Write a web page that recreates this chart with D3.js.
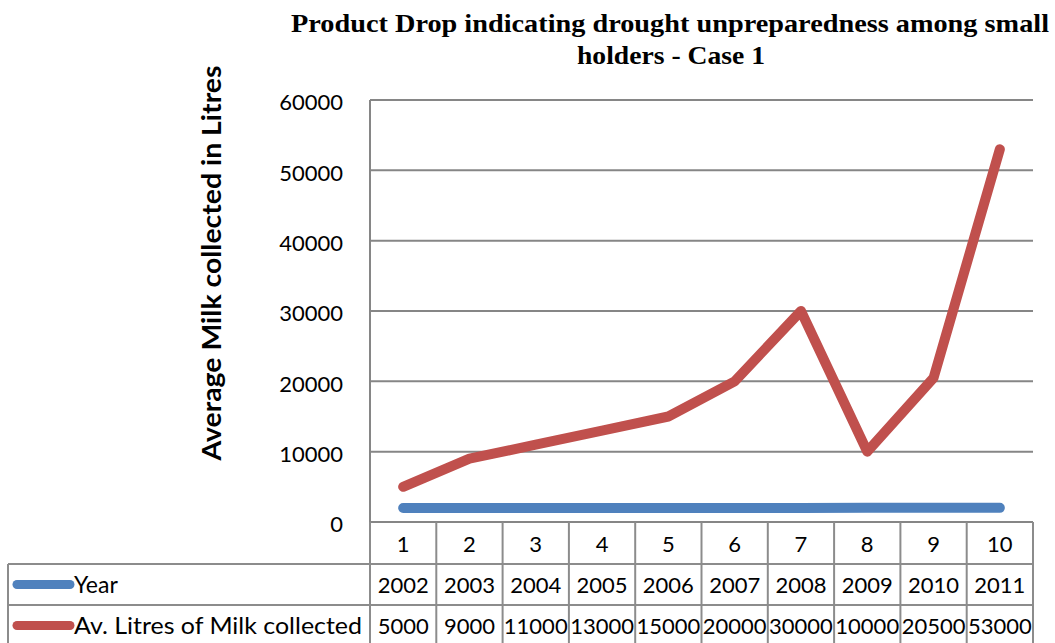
<!DOCTYPE html>
<html>
<head>
<meta charset="utf-8">
<script src="https://cdn.jsdelivr.net/npm/d3@7"></script>
<style>
  body { margin: 0; background: #fff; }
  text { fill: #000; }
</style>
</head>
<body>
<div id="chart"></div>
<script>
// Chart data
var categories = [1, 2, 3, 4, 5, 6, 7, 8, 9, 10];
var years = [2002, 2003, 2004, 2005, 2006, 2007, 2008, 2009, 2010, 2011];
var milk = [5000, 9000, 11000, 13000, 15000, 20000, 30000, 10000, 20500, 53000];
var yTicks = [0, 10000, 20000, 30000, 40000, 50000, 60000];
var seriesNames = ["Year", "Av. Litres of Milk collected"];
var seriesColors = ["#4F81BD", "#C0504D"];

var svgWidth = 1055;
var svgHeight = 643;

var margin = { top: 100, right: 22, bottom: 121, left: 370 };
var width = svgWidth - margin.left - margin.right;
var height = svgHeight - margin.top - margin.bottom;

var tickFont = "Lato, 'Open Sans', sans-serif";

var svg = d3.select("#chart")
  .append("svg")
  .attr("width", svgWidth)
  .attr("height", svgHeight);

var thefigure = svg.append("g")
  .attr("transform", `translate(${margin.left}, ${margin.top})`);

// Scales
var xScale = d3.scaleBand()
  .domain(categories)
  .range([0, width]);

var yScale = d3.scaleLinear()
  .domain([0, 60000])
  .range([height, 0]);

// Gridlines
thefigure.append("g")
  .selectAll("line")
  .data(yTicks)
  .enter()
  .append("line")
  .attr("x1", 0)
  .attr("x2", width)
  .attr("y1", d => yScale(d))
  .attr("y2", d => yScale(d))
  .attr("stroke", "#868686")
  .attr("stroke-width", 2);

// Y axis
var leftAxis = d3.axisLeft(yScale)
  .tickValues(yTicks)
  .tickFormat(d3.format("d"))
  .tickSize(0)
  .tickPadding(27);
var yAxisG = thefigure.append("g").call(leftAxis);
yAxisG.select(".domain").remove();
yAxisG.selectAll("text")
  .style("font-family", tickFont)
  .style("font-size", "22px")
  .attr("dy", "0.45em");
thefigure.append("line")
  .attr("x1", 0).attr("x2", 0)
  .attr("y1", 0).attr("y2", height)
  .attr("stroke", "#868686").attr("stroke-width", 2);

// Lines
var lineGen = d3.line()
  .x((d, i) => xScale(categories[i]) + xScale.bandwidth() / 2)
  .y(d => yScale(d));

[years, milk].forEach(function(series, k) {
  thefigure.append("path")
    .datum(series)
    .attr("d", lineGen)
    .attr("fill", "none")
    .attr("stroke", seriesColors[k])
    .attr("stroke-width", 10)
    .attr("stroke-linecap", "round")
    .attr("stroke-linejoin", "round");
});

// Data table
var rowH = [42, 41, 41];
var rowTop = [height, height + 42, height + 83];
var tableLeft = 8 - margin.left;
var table = thefigure.append("g");
var gridColor = "#8c8c8c";

// horizontal lines
[rowTop[0] + rowH[0], rowTop[1] + rowH[1]].forEach(function(y) {
  table.append("line")
    .attr("x1", tableLeft).attr("x2", width)
    .attr("y1", y).attr("y2", y)
    .attr("stroke", gridColor).attr("stroke-width", 2);
});
table.append("line")
  .attr("x1", tableLeft).attr("x2", tableLeft)
  .attr("y1", rowTop[1]).attr("y2", svgHeight)
  .attr("stroke", gridColor).attr("stroke-width", 2);

// vertical lines
table.selectAll(".vline")
  .data(categories)
  .enter()
  .append("line")
  .attr("x1", d => xScale(d) + xScale.bandwidth())
  .attr("x2", d => xScale(d) + xScale.bandwidth())
  .attr("y1", height)
  .attr("y2", svgHeight)
  .attr("stroke", gridColor).attr("stroke-width", 2);
table.append("line")
  .attr("x1", 0).attr("x2", 0)
  .attr("y1", height).attr("y2", svgHeight)
  .attr("stroke", gridColor).attr("stroke-width", 2);

// category row
table.selectAll(".cat")
  .data(categories)
  .enter()
  .append("text")
  .attr("x", d => xScale(d) + xScale.bandwidth() / 2)
  .attr("y", rowTop[0] + 30)
  .attr("text-anchor", "middle")
  .style("font-family", tickFont)
  .style("font-size", "22px")
  .text(d => d);

[years, milk].forEach(function(series, k) {
  table.selectAll(".val" + k)
    .data(series)
    .enter()
    .append("text")
    .attr("x", (d, i) => xScale(categories[i]) + xScale.bandwidth() / 2)
    .attr("y", rowTop[k + 1] + 29)
    .attr("text-anchor", "middle")
    .style("font-family", tickFont)
    .style("font-size", "22px")
    .text(d => d);

  var cy = rowTop[k + 1] + rowH[k + 1] / 2;
  table.append("line")
    .attr("x1", tableLeft + 9).attr("x2", tableLeft + 62)
    .attr("y1", cy).attr("y2", cy)
    .attr("stroke", seriesColors[k])
    .attr("stroke-width", 9)
    .attr("stroke-linecap", "round");
  var lab = table.append("text")
    .attr("x", tableLeft + 66)
    .attr("y", cy + 8)
    .style("font-family", tickFont)
    .style("font-size", "23px")
    .text(seriesNames[k]);
  if (k === 1) lab.attr("textLength", 288).attr("lengthAdjust", "spacingAndGlyphs");
});

// Title
var title = svg.append("text")
  .attr("text-anchor", "middle")
  .style("font-family", "'Liberation Serif', 'DejaVu Serif', serif")
  .style("font-weight", "bold")
  .style("font-size", "25px");
title.append("tspan").attr("x", 670).attr("y", 32)
  .attr("textLength", 758).attr("lengthAdjust", "spacingAndGlyphs")
  .text("Product Drop indicating drought unpreparedness among small");
title.append("tspan").attr("x", 671).attr("y", 64)
  .attr("textLength", 188).attr("lengthAdjust", "spacingAndGlyphs")
  .text("holders - Case 1");

// Y axis label
svg.append("text")
  .attr("transform", "rotate(-90)")
  .attr("x", -263)
  .attr("y", 221)
  .attr("text-anchor", "middle")
  .attr("textLength", 395)
  .attr("lengthAdjust", "spacingAndGlyphs")
  .style("font-family", tickFont)
  .style("font-weight", "bold")
  .style("font-size", "26px")
  .text("Average Milk collected in Litres");
</script>
</body>
</html>
